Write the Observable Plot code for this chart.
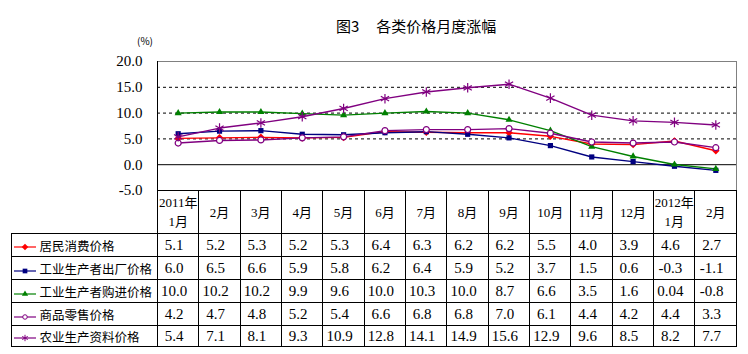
<!DOCTYPE html>
<html><head><meta charset="utf-8">
<script src="https://cdn.jsdelivr.net/npm/d3@7"></script>
<script src="https://cdn.jsdelivr.net/npm/@observablehq/plot@0.6"></script>
<style>
body{margin:0;background:#fff;}
#wrap{position:relative;width:748px;height:354px;overflow:hidden;}
#title{position:absolute;left:336px;top:15px;font:15px "Noto Sans CJK SC";white-space:pre;line-height:22px;color:#000;}
#unit{position:absolute;left:137px;top:33px;font:10px "Noto Sans CJK SC";color:#000;}
#chart{position:absolute;left:0;top:0;}
#chart svg text{font-family:"Liberation Serif",serif;}
table{position:absolute;left:10.5px;top:190px;border-collapse:collapse;table-layout:fixed;}
td{border:1px solid #000;padding:0;text-align:center;font:15px "Liberation Serif",serif;color:#000;white-space:nowrap;overflow:hidden;box-sizing:border-box;}
td.num{padding-right:8px;}
td.hd{font:13px "Liberation Serif","Noto Sans CJK SC";line-height:19px;}
td.leg{text-align:left;font:12.5px "Noto Sans CJK SC";padding-left:2px;}
td.leg svg{vertical-align:middle;margin-right:4px;}
</style></head>
<body><div id="wrap"><div id="chart"></div><div id="unit">(%)</div><div id="title">图3     各类价格月度涨幅</div></div>
<script>
const months = ["2011年\n1月","2月","3月","4月","5月","6月","7月","8月","9月","10月","11月","12月","2012年\n1月","2月"];
const seriesNames = ["居民消费价格","工业生产者出厂价格","工业生产者购进价格","商品零售价格","农业生产资料价格"];
const cpi    = [5.1,5.2,5.3,5.2,5.3,6.4,6.3,6.2,6.2,5.5,4.0,3.9,4.6,2.7];
const ppiOut = [6.0,6.5,6.6,5.9,5.8,6.2,6.4,5.9,5.2,3.7,1.5,0.6,-0.3,-1.1];
const ppiIn  = [10.0,10.2,10.2,9.9,9.6,10.0,10.3,10.0,8.7,6.6,3.5,1.6,0.04,-0.8];
const retail = [4.2,4.7,4.8,5.2,5.4,6.6,6.8,6.8,7.0,6.1,4.4,4.2,4.4,3.3];
const agri   = [5.4,7.1,8.1,9.3,10.9,12.8,14.1,14.9,15.6,12.9,9.6,8.5,8.2,7.7];
const valueLabels = [
  ["5.1","5.2","5.3","5.2","5.3","6.4","6.3","6.2","6.2","5.5","4.0","3.9","4.6","2.7"],
  ["6.0","6.5","6.6","5.9","5.8","6.2","6.4","5.9","5.2","3.7","1.5","0.6","-0.3","-1.1"],
  ["10.0","10.2","10.2","9.9","9.6","10.0","10.3","10.0","8.7","6.6","3.5","1.6","0.04","-0.8"],
  ["4.2","4.7","4.8","5.2","5.4","6.6","6.8","6.8","7.0","6.1","4.4","4.2","4.4","3.3"],
  ["5.4","7.1","8.1","9.3","10.9","12.8","14.1","14.9","15.6","12.9","9.6","8.5","8.2","7.7"]
];
const yTicks = [-5,0,5,10,15,20];
const gridValues = [5,10,15];
const colors = ["#FF0000","#000080","#008000","#800080","#800080"];
const symbols = ["diamond2","square2","triangle2","circle","asterisk"];

const seriesValues = [cpi, ppiOut, ppiIn, retail, agri];
const rows = seriesNames.flatMap((name, s) => seriesValues[s].map((v, i) => ({name, s, i, v})));

const marks = [
  Plot.ruleY(gridValues, {stroke:"#000", strokeDasharray:"3,3"}),
  Plot.ruleY([20], {stroke:"#808080"}),
  Plot.ruleX([13.5], {stroke:"#808080"}),
  Plot.ruleY([0], {stroke:"#000"}),
  Plot.ruleY([-5], {stroke:"#000"}),
  Plot.ruleX([-0.5], {stroke:"#000"}),
  Plot.axisY({ticks: yTicks, tickFormat: d => d.toFixed(1), tickSize: 0, tickPadding: 15,
    fontSize: 15, fontFamily: "Liberation Serif", fill: "#000", label: null})
];
seriesNames.forEach((name, s) => {
  const data = rows.filter(d => d.s === s);
  marks.push(Plot.line(data, {x:"i", y:"v", stroke: colors[s], strokeWidth: 1.4}));
});
seriesNames.forEach((name, s) => {
  const data = rows.filter(d => d.s === s);
  const open = symbols[s] === "circle";
  const starry = symbols[s] === "asterisk";
  marks.push(Plot.dot(data, {x:"i", y:"v", symbol: () => symbols[s],
    r: open ? 3 : starry ? 4.5 : (symbols[s] === "square2" ? 3.3 : 3.4),
    fill: open ? "#fff" : starry ? "none" : colors[s],
    stroke: (open || starry) ? colors[s] : "none", strokeWidth: 1.2}));
});

const plot = Plot.plot({
  width: 748, height: 191,
  marginTop: 61, marginBottom: 1, marginLeft: 157, marginRight: 12,
  x: {domain: [-0.5, months.length - 0.5], axis: null},
  y: {domain: [-5, 20], axis: null},
  style: {background: "transparent", overflow: "visible", fontFamily: "Liberation Serif"},
  marks
});
document.getElementById("chart").appendChild(plot);

// data table aligned to the x scale
const xs = plot.scale("x");
const colW = xs.apply(0.5) - xs.apply(-0.5);
const leftEdge = xs.apply(-0.5);
const tableLeft = 10.5;
const table = document.createElement("table");
table.style.width = (leftEdge - tableLeft + colW * months.length) + "px";
const cg = document.createElement("colgroup");
const c0 = document.createElement("col"); c0.style.width = (leftEdge - tableLeft) + "px"; cg.appendChild(c0);
months.forEach(() => { const c = document.createElement("col"); c.style.width = colW + "px"; cg.appendChild(c); });
table.appendChild(cg);

const hr = document.createElement("tr"); hr.style.height = "43px";
const h0 = document.createElement("td"); h0.style.borderTop = "none"; h0.style.borderLeft = "none"; hr.appendChild(h0);
months.forEach(m => { const td = document.createElement("td"); td.className = "hd"; td.innerHTML = m.replace("\n","<br>"); hr.appendChild(td); });
table.appendChild(hr);

function swatch(s) {
  const svg = d3.create("svg").attr("width", 22).attr("height", 10);
  svg.append("line").attr("x1",0).attr("x2",22).attr("y1",5).attr("y2",5).attr("stroke",colors[s]).attr("stroke-width",1.2);
  const symMap = {diamond2: d3.symbolDiamond2, square2: d3.symbolSquare2, triangle2: d3.symbolTriangle2, circle: d3.symbolCircle, asterisk: d3.symbolAsterisk};
  const open = symbols[s] === "circle", starry = symbols[s] === "asterisk";
  svg.append("path").attr("transform","translate(11,5)")
    .attr("d", d3.symbol(symMap[symbols[s]], open ? 16 : 28)())
    .attr("fill", open ? "#fff" : starry ? "none" : colors[s])
    .attr("stroke", (open || starry) ? colors[s] : "none");
  return svg.node();
}
const rowHeights = [23.4, 23, 23, 23, 20.3];
seriesNames.forEach((name, s) => {
  const tr = document.createElement("tr"); tr.style.height = rowHeights[s] + "px";
  const td0 = document.createElement("td"); td0.className = "leg";
  td0.appendChild(swatch(s)); td0.appendChild(document.createTextNode(name));
  tr.appendChild(td0);
  valueLabels[s].forEach(v => { const td = document.createElement("td"); td.className = "num"; td.textContent = v; tr.appendChild(td); });
  table.appendChild(tr);
});
document.getElementById("wrap").appendChild(table);
</script>
</body></html>
